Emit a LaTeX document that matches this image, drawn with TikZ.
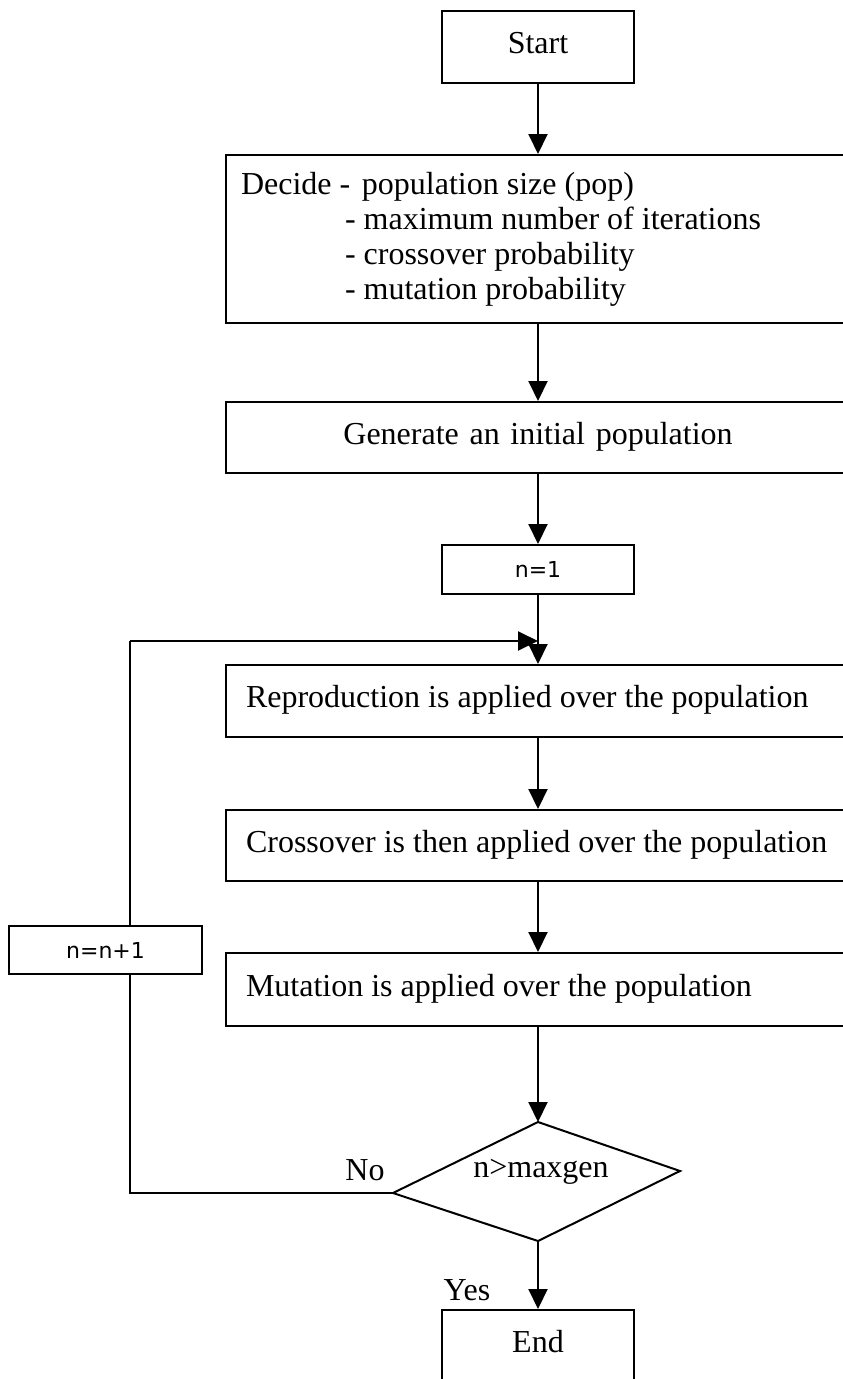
\documentclass[tikz,border=0pt]{standalone}
\usepackage{fontspec}
\setmainfont{Liberation Serif}
\newfontfamily\sansf{DejaVu Sans}
\usetikzlibrary{arrows.meta}
\tikzset{
  box/.style={draw, line width=2pt, fill=white, rectangle, inner sep=0pt, font=\fontsize{32}{35}\selectfont},
  onebox/.style={box, text height=22pt, text depth=9pt},
  widebox/.style={onebox, minimum width=674pt, text width=634pt, align=flush left, inner xsep=20pt},
  smallbox/.style={draw, line width=2pt, fill=white, rectangle, inner sep=0pt, font=\sansf\fontsize{22}{26}\selectfont},
  arr/.style={line width=2pt, -{Triangle[width=19pt,length=20pt]}},
  conn/.style={line width=2pt},
  lbl/.style={font=\fontsize{32}{35}\selectfont, inner sep=0pt}
}
\begin{document}
\begin{tikzpicture}[x=1pt,y=-1pt]
\useasboundingbox (0,0) rectangle (843,1379);
\clip (0,0) rectangle (843,1379);
\node[onebox, minimum width=192pt, minimum height=72pt] (start) at (538,47) {Start};
\node[box, minimum width=674pt, minimum height=168pt, text width=644pt, align=flush left, inner xsep=15pt] (decide) at (563,239)
  {\makebox[121pt][l]{Decide -}population size (pop)\\
   \hspace*{104pt}- maximum number of iterations\\
   \hspace*{104pt}- crossover probability\\
   \hspace*{104pt}- mutation probability};
\node[onebox, minimum width=624pt, minimum height=71pt, text width=624pt, align=center] (gen) at (538,437.5) {Generate an initial population};
\node[smallbox, minimum width=192pt, minimum height=49pt] (n1) at (538,569.5) {n=1};
\node[widebox, minimum height=72pt] (rep) at (563,701) {Reproduction is applied over the population};
\node[widebox, minimum height=71pt] (cross) at (563,845.5) {Crossover is then applied over the population};
\node[widebox, minimum height=73pt] (mut) at (563,989.5) {Mutation is applied over the population};
\coordinate (dtop) at (538,1122);
\coordinate (dright) at (680,1171);
\coordinate (dbot) at (538,1241);
\coordinate (dleft) at (393,1193);
\draw[conn, line join=miter] (dtop) -- (dright) -- (dbot) -- (dleft) -- cycle;
\node[lbl] (cond) at (541,1172) {n>maxgen};
\node[onebox, minimum width=192pt, minimum height=72pt] (end) at (538,1346) {End};
\node[lbl] (no) at (365,1170) {No};
\node[lbl] (yes) at (467,1290) {Yes};
\coordinate (ltop) at (130,641);
\coordinate (ltip) at (538,641);
\draw[arr] (start.south) -- (start.south |- decide.north);
\draw[arr] (start.south |- decide.south) -- (gen.north);
\draw[arr] (gen.south) -- (n1.north);
\draw[arr] (n1.south) -- (n1.south |- rep.north);
\draw[arr] (n1.south |- rep.south) -- (n1.south |- cross.north);
\draw[arr] (n1.south |- cross.south) -- (n1.south |- mut.north);
\draw[arr] (n1.south |- mut.south) -- (dtop);
\draw[arr] (dbot) -- (end.north);
\draw[conn] (dleft) -| (ltop);
\draw[arr] (ltop) -- (ltip);
\node[smallbox, minimum width=193pt, minimum height=48pt] (nn1) at (105.5,950) {n=n+1};
\end{tikzpicture}
\end{document}
